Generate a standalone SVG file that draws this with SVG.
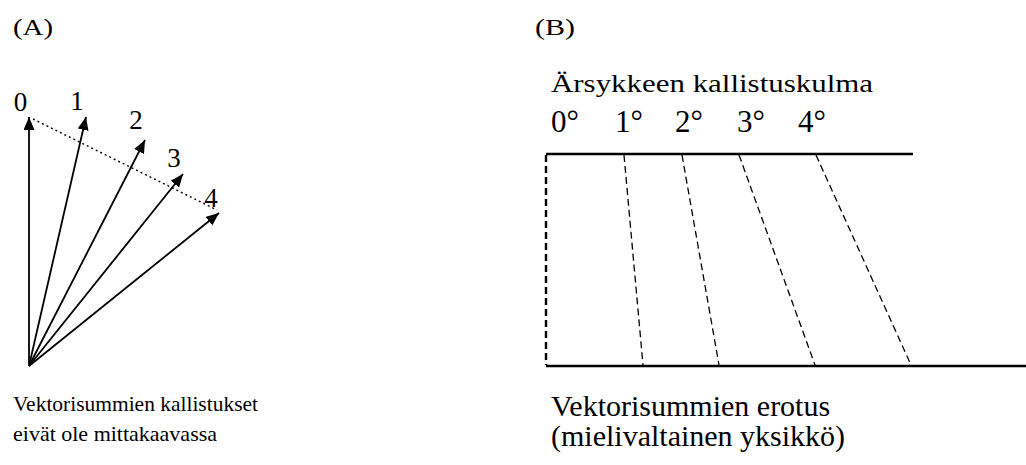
<svg xmlns="http://www.w3.org/2000/svg" width="1026" height="465" viewBox="0 0 1026 465">
<defs>
<marker id="ah" markerUnits="userSpaceOnUse" markerWidth="14" markerHeight="12" refX="13" refY="5.5" orient="auto">
<path d="M0,0 L13,5.5 L0,11 Z" fill="#000"/>
</marker>
</defs>
<rect width="1026" height="465" fill="#fff"/>
<g id="titles">
<text x="13" y="35" font-family="Liberation Serif" font-size="24" textLength="40" lengthAdjust="spacingAndGlyphs">(A)</text>
<text x="535" y="35" font-family="Liberation Serif" font-size="24" textLength="40" lengthAdjust="spacingAndGlyphs">(B)</text>
</g>
<g id="panelA">
<g id="connectors" stroke="#000" stroke-width="1.8" fill="none">
<line x1="29" y1="366" x2="29" y2="117" marker-end="url(#ah)"/>
<line x1="29" y1="366" x2="86" y2="117" marker-end="url(#ah)"/>
<line x1="29" y1="366" x2="145" y2="140" marker-end="url(#ah)"/>
<line x1="29" y1="366" x2="183" y2="174" marker-end="url(#ah)"/>
<line x1="29" y1="366" x2="219" y2="213" marker-end="url(#ah)"/>
<line x1="33" y1="119" x2="217" y2="210" stroke-width="1.4" stroke-dasharray="2 3"/>
</g>
<g id="labelsA">
<text x="20.5" y="111" font-family="Liberation Serif" font-size="27" text-anchor="middle">0</text>
<text x="77" y="110" font-family="Liberation Serif" font-size="27" text-anchor="middle">1</text>
<text x="136" y="129" font-family="Liberation Serif" font-size="27" text-anchor="middle">2</text>
<text x="174" y="167" font-family="Liberation Serif" font-size="27" text-anchor="middle">3</text>
<text x="211" y="207" font-family="Liberation Serif" font-size="27" text-anchor="middle">4</text>
</g>
<g id="captionA">
<text x="13" y="411" font-family="Liberation Serif" font-size="22" textLength="245" lengthAdjust="spacingAndGlyphs">Vektorisummien kallistukset</text>
<text x="13" y="441" font-family="Liberation Serif" font-size="22">eivät ole mittakaavassa</text>
</g>
</g>
<g id="panelB">
<g id="titleB">
<text x="551" y="92" font-family="Liberation Serif" font-size="26" textLength="322" lengthAdjust="spacingAndGlyphs">Ärsykkeen kallistuskulma</text>
</g>
<g id="degrees">
<text x="551" y="132" font-family="Liberation Serif" font-size="31">0°</text>
<text x="615" y="132" font-family="Liberation Serif" font-size="31">1°</text>
<text x="675" y="132" font-family="Liberation Serif" font-size="31">2°</text>
<text x="737" y="132" font-family="Liberation Serif" font-size="31">3°</text>
<text x="798" y="132" font-family="Liberation Serif" font-size="31">4°</text>
</g>
<g id="lines" stroke="#000" fill="none">
<line x1="546" y1="154" x2="913" y2="154" stroke-width="2.6"/>
<line x1="546" y1="366" x2="1026" y2="366" stroke-width="2.6"/>
<line x1="546" y1="155" x2="546" y2="365" stroke-width="2.4" stroke-dasharray="7 4"/>
<line x1="624" y1="155" x2="643" y2="365" stroke-width="1.3" stroke-dasharray="7 4"/>
<line x1="682" y1="155" x2="719" y2="365" stroke-width="1.3" stroke-dasharray="7 4"/>
<line x1="739" y1="155" x2="815" y2="365" stroke-width="1.3" stroke-dasharray="7 4"/>
<line x1="816" y1="155" x2="911" y2="365" stroke-width="1.3" stroke-dasharray="7 4"/>
</g>
<g id="captionB">
<text x="551" y="416" font-family="Liberation Serif" font-size="30">Vektorisummien erotus</text>
<text x="551" y="446" font-family="Liberation Serif" font-size="30">(mielivaltainen yksikkö)</text>
</g>
</g>
</svg>
